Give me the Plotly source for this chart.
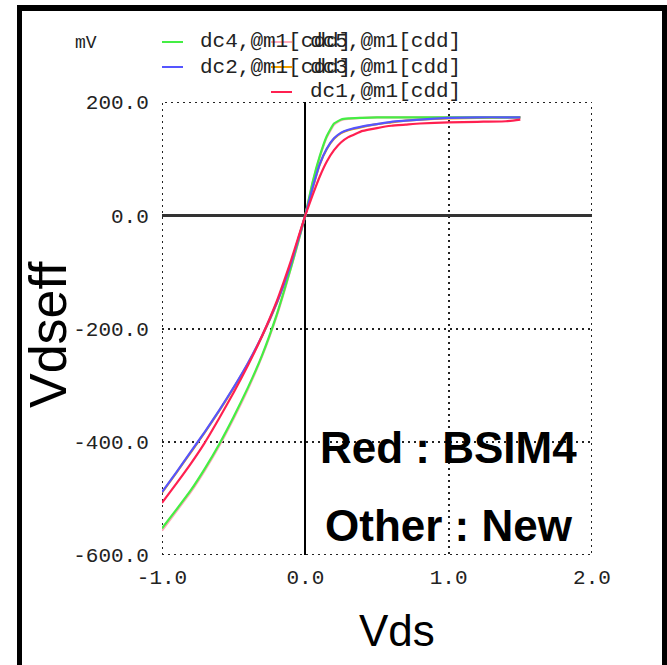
import plotly.graph_objects as go

# Sweep voltage (V) and effective drain voltage (mV) for each DC run
vds = [-1.0, -0.9, -0.8, -0.7, -0.6, -0.5, -0.4, -0.3, -0.2, -0.15, -0.1, -0.05, 0.0,
       0.05, 0.1, 0.15, 0.2, 0.25, 0.3, 0.4, 0.5, 0.6, 0.7, 0.8, 1.0, 1.2, 1.4, 1.5]

dc1 = [-508, -474, -439, -401, -358, -313, -265, -212, -152, -117, -80, -40, 0,
       35, 68, 95, 115, 129, 138, 149, 154, 158, 160, 162, 164, 165, 166, 169]
dc2 = [-489, -454, -418, -382, -344, -304, -261, -212, -155, -122, -85, -43, 0,
       48, 90, 118, 136, 146, 151, 157, 161, 165, 167, 169, 172, 173, 173, 173]
dc3 = [-490, -455, -419, -383, -345, -305, -262, -213, -156, -122, -85, -43, 0,
       47, 89, 117, 135, 145, 150, 156, 161, 164, 167, 169, 171, 172, 173, 173]
dc4 = [-553, -520, -486, -447, -404, -356, -304, -246, -176, -135, -92, -47, 0,
       58, 104, 140, 162, 169, 171, 172, 173, 173, 173, 173, 173, 173, 173, 173]
dc5 = [-557, -523, -489, -450, -407, -359, -307, -248, -178, -137, -93, -48, 0,
       56, 102, 138, 160, 168, 170, 172, 173, 173, 173, 173, 173, 173, 173, 173]

x_ticks = [-1.0, 0.0, 1.0, 2.0]
x_tick_text = ["-1.0", "0.0", "1.0", "2.0"]
y_ticks = [-600, -400, -200, 0, 200]
y_tick_text = ["-600.0", "-400.0", "-200.0", "0.0", "200.0"]

series_names = ["dc5,@m1[cdd]", "dc3,@m1[cdd]", "dc4,@m1[cdd]", "dc2,@m1[cdd]", "dc1,@m1[cdd]"]
series_data = [dc5, dc3, dc4, dc2, dc1]
series_colors = ["#ffa8b8", "#f0a000", "#44ee44", "#5555ff", "#ff2050"]

W, H = 667, 665
ML, MR, MT, MB = 162, 75, 102, 110
PW, PH = W - ML - MR, H - MT - MB


def px(x):
    return (x - ML) / PW


def py(y):
    return 1 - (y - MT) / PH


MONO = "Liberation Mono, Courier New, monospace"
SANS = "Liberation Sans, Arial, sans-serif"
GRID_COLOR = "#222222"
GRID_DASH = "2px,4px"

fig = go.Figure()
for name, ys, col in zip(series_names, series_data, series_colors):
    fig.add_trace(go.Scatter(
        x=vds, y=ys, mode="lines", name=name,
        line=dict(color=col, width=2.2, shape="spline", smoothing=0.4),
        showlegend=False,
    ))

annotations = []
shapes = []

# dotted frame on the plot edges (the edge grid lines)
shapes.append(dict(type="rect", xref="x", yref="y", layer="below",
                   x0=x_ticks[0], x1=x_ticks[-1], y0=y_ticks[0], y1=y_ticks[-1],
                   line=dict(color=GRID_COLOR, width=2, dash=GRID_DASH)))

# legend block, two columns of sample line + label
legend_rows = {
    "dc4,@m1[cdd]": (0, 42), "dc2,@m1[cdd]": (0, 67),
    "dc5,@m1[cdd]": (1, 42), "dc3,@m1[cdd]": (1, 67), "dc1,@m1[cdd]": (1, 92),
}
col_line = [(162, 183), (271, 292)]
col_text = [198, 308]
for name, col in zip(series_names, series_colors):
    c, yy = legend_rows[name]
    annotations.append(dict(
        x=px(col_text[c]), y=py(yy), xref="paper", yref="paper",
        text=name, showarrow=False, xanchor="left", yanchor="middle",
        font=dict(family=MONO, size=21, color="#222222"),
    ))
for name, col in zip(series_names, series_colors):
    c, yy = legend_rows[name]
    x0, x1 = col_line[c]
    shapes.append(dict(
        type="line", xref="paper", yref="paper",
        x0=px(x0), x1=px(x1), y0=py(yy), y1=py(yy),
        line=dict(color=col, width=2),
    ))

annotations.append(dict(
    x=px(73), y=py(43), xref="paper", yref="paper", text="mV",
    showarrow=False, xanchor="left", yanchor="middle",
    font=dict(family=MONO, size=18, color="#222222"),
))

annotations += [
    dict(x=px(448), y=py(447), xref="paper", yref="paper", text="<b>Red : BSIM4</b>",
         showarrow=False, xanchor="center", yanchor="middle",
         font=dict(family=SANS, size=44, color="#000000")),
    dict(x=px(449), y=py(525), xref="paper", yref="paper", text="<b>Other : New</b>",
         showarrow=False, xanchor="center", yanchor="middle",
         font=dict(family=SANS, size=44, color="#000000")),
    dict(x=px(397), y=py(630), xref="paper", yref="paper", text="Vds",
         showarrow=False, xanchor="center", yanchor="middle",
         font=dict(family=SANS, size=44, color="#000000")),
    dict(x=px(48), y=py(335), xref="paper", yref="paper", text="Vdseff",
         showarrow=False, xanchor="center", yanchor="middle", textangle=-90,
         font=dict(family=SANS, size=52, color="#000000")),
]

# black frame around the slide panel
for x0, y0, x1, y1 in [(17, 5, 22, 665), (17, 5, 667, 11), (662, 5, 667, 665)]:
    shapes.append(dict(type="rect", xref="paper", yref="paper",
                       x0=px(x0), x1=px(x1), y0=py(y1), y1=py(y0),
                       fillcolor="#000000", line=dict(width=0)))

grid = dict(showgrid=True, gridcolor=GRID_COLOR, gridwidth=2, griddash=GRID_DASH,
            zeroline=True, showline=False, ticks="outside", tickcolor="rgba(0,0,0,0)",
            tickfont=dict(family=MONO, size=21, color="#222222"))

fig.update_layout(
    width=W, height=H,
    margin=dict(l=ML, r=MR, t=MT, b=MB),
    paper_bgcolor="white", plot_bgcolor="white",
    xaxis=dict(range=[-1, 2], tickvals=x_ticks, ticktext=x_tick_text,
               zerolinecolor="#000000", zerolinewidth=2, ticklen=3, **grid),
    yaxis=dict(range=[-600, 200], tickvals=y_ticks, ticktext=y_tick_text,
               zerolinecolor="#333333", zerolinewidth=3, ticklen=8, **grid),
    annotations=annotations, shapes=shapes,
)

fig.write_html("out.html")
